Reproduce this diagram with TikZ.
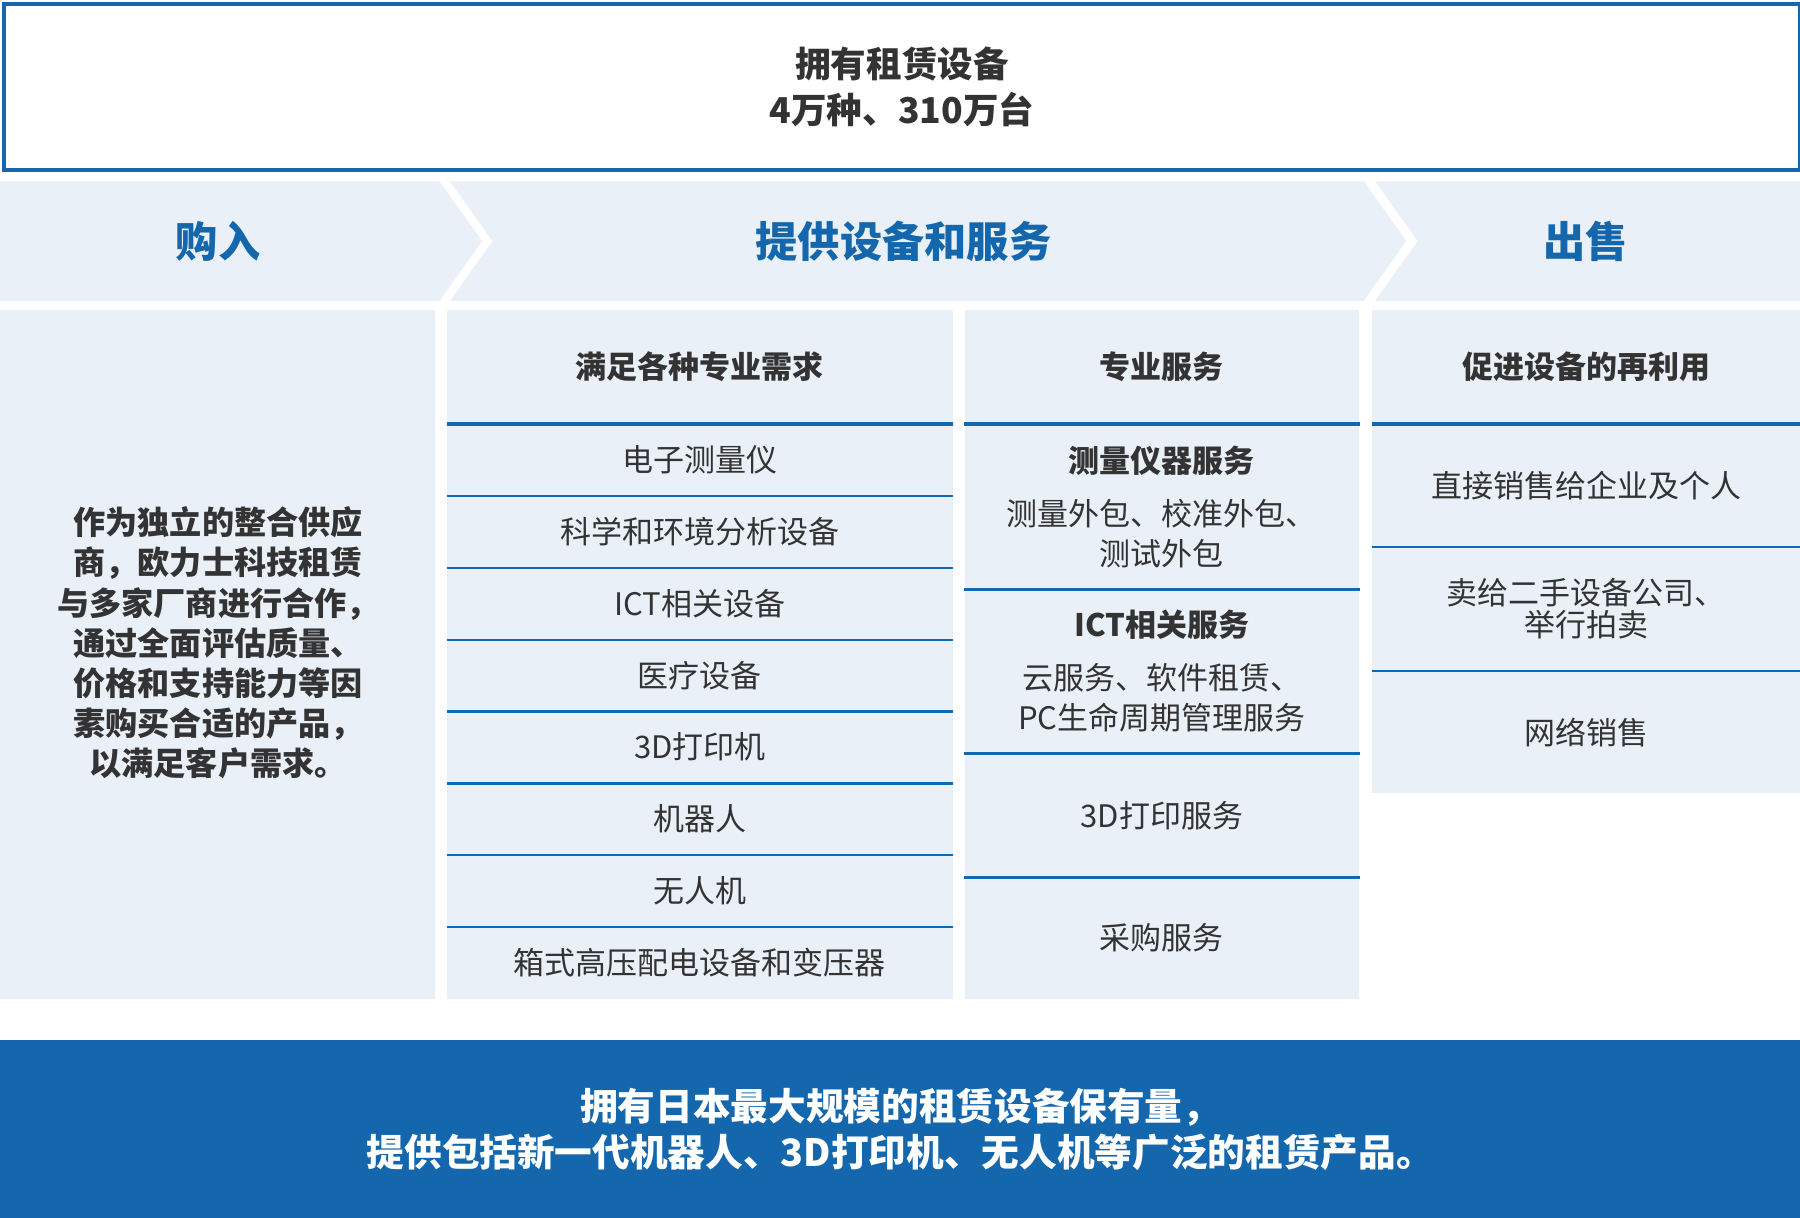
\documentclass[tikz,border=0pt]{standalone}
\usepackage{fontspec}
\setmainfont{Noto Sans CJK SC}
\usetikzlibrary{positioning}
\definecolor{k-blue}{HTML}{1467AC}
\definecolor{k-light}{HTML}{E9F0F7}
\definecolor{k-text}{HTML}{333333}

\begin{document}
\begin{tikzpicture}[x=1pt, y=-1pt,
                every node/.append style={align=center, inner sep=0pt, text=k-text},
                cell/.style={fill=k-light, anchor=north west},
                txt/.style={font=\fontsize{27}{35}\selectfont},
                hd/.style={font=\fontsize{27}{35}\selectfont\bfseries},
                band/.style={font=\fontsize{36.8}{40}\selectfont\bfseries, text=k-blue},
                rowline/.style={draw=k-blue, line width=2pt},
                hdline/.style={draw=k-blue, line width=3.5pt}]
    \useasboundingbox (0,0) rectangle (1568,1061);

    % top box
    \node [draw=k-blue, line width=3.5pt, fill=white, anchor=north west,
           minimum width=1564.5, minimum height=144.5,
           font=\fontsize{31}{40}\selectfont\bfseries] (own) at (1.75,1.75)
          {拥有租赁设备\\4万种、310万台};

    % chevron band
    \fill[k-light] (0,158) -- (383,158) -- (420,210) -- (383,262) -- (0,262) -- cycle;
    \fill[k-light] (392,158) -- (1188,158) -- (1225,210) -- (1188,262) -- (392,262) -- (429,210) -- cycle;
    \fill[k-light] (1198,158) -- (1568,158) -- (1568,262) -- (1198,262) -- (1235,210) -- cycle;
    \node [band] (buyhd)  at (190,210)  {购入};
    \node [band] (rent)   at (787,210)  {提供设备和服务};
    \node [band] (sellhd) at (1381,210) {出售};

    % purchase column
    \node [cell, minimum width=379, minimum height=600] (buy) at (0,270) {};
    \node [font=\fontsize{28}{35}\selectfont\bfseries] (buytext) at (190,560)
          {作为独立的整合供应\\商，欧力士科技租赁\\与多家厂商进行合作，\\通过全面评估质量、\\价格和支持能力等因\\素购买合适的产品，\\以满足客户需求。};

    % equipment column
    \node [cell, hd, minimum width=441, minimum height=99] (eqhd) at (389,270) {满足各种专业需求};
    \foreach \t [count=\i] in {电子测量仪, 科学和环境分析设备, ICT相关设备, 医疗设备,
                               3D打印机, 机器人, 无人机, 箱式高压配电设备和变压器}
        \node [cell, txt, minimum width=441, minimum height=62.6] (eq\i) at (389,{369+(\i-1)*62.6}) {\t};
    \foreach \i in {1,...,7}
        \draw[rowline] (eq\i.south west) -- (eq\i.south east);
    \draw[hdline] (eqhd.south west) -- (eqhd.south east);

    % service column
    \node [cell, hd, minimum width=344, minimum height=99] (svhd) at (840,270) {专业服务};
    \node [cell, minimum width=344, minimum height=144] (sv1) at (840,369) {};
    \node [cell, minimum width=344, minimum height=143] (sv2) at (840,513) {};
    \node [cell, txt, minimum width=344, minimum height=108] (sv3) at (840,656) {3D打印服务};
    \node [cell, txt, minimum width=344, minimum height=106] (sv4) at (840,764) {采购服务};
    \node [hd]  (sv1t) at (1012,401)   {测量仪器服务};
    \node [txt] (sv1d) at (1012,465)   {测量外包、校准外包、\\测试外包};
    \node [hd]  (sv2t) at (1012,544)   {ICT相关服务};
    \node [txt] (sv2d) at (1012,607.5) {云服务、软件租赁、\\PC生命周期管理服务};
    \foreach \i in {1,2,3}
        \draw[rowline] (sv\i.south west) -- (sv\i.south east);
    \draw[hdline] (svhd.south west) -- (svhd.south east);

    % resale column
    \node [cell, hd, minimum width=373, minimum height=99] (slhd) at (1195,270) {促进设备的再利用};
    \node [cell, txt, minimum width=373, minimum height=107] (sl1) at (1195,369) {直接销售给企业及个人};
    \node [cell, font=\fontsize{27}{28}\selectfont, minimum width=373, minimum height=108] (sl2) at (1195,476)
          {卖给二手设备公司、\\举行拍卖};
    \node [cell, txt, minimum width=373, minimum height=107] (sl3) at (1195,584) {网络销售};
    \foreach \i in {1,2}
        \draw[rowline] (sl\i.south west) -- (sl\i.south east);
    \draw[hdline] (slhd.south west) -- (slhd.south east);

    % bottom band
    \node [fill=k-blue, text=white, anchor=north west, minimum width=1568, minimum height=155,
           font=\fontsize{32.8}{40}\selectfont\bfseries] (foot) at (0,906)
          {拥有日本最大规模的租赁设备保有量，\\提供包括新一代机器人、3D打印机、无人机等广泛的租赁产品。};
\end{tikzpicture}
\end{document}
